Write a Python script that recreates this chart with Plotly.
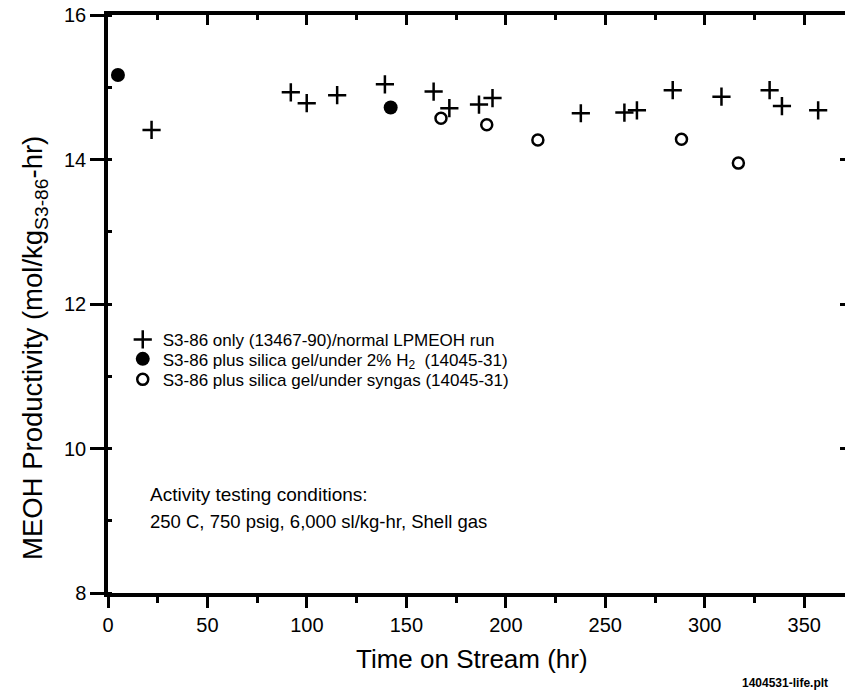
import plotly.graph_objects as go

# ---- data ----
normal_x = [21.9, 91.9, 99.9, 115.2, 139.2, 163.7, 171.6, 186.5, 193.3, 237.7,
            259.6, 265.9, 283.9, 308.4, 332.6, 338.8, 357.0]
normal_y = [14.41, 14.93, 14.78, 14.89, 15.04, 14.94, 14.71, 14.76, 14.85, 14.64,
            14.65, 14.68, 14.96, 14.87, 14.96, 14.74, 14.68]

h2_x = [5.0, 142.1]
h2_y = [15.17, 14.72]

syngas_x = [167.4, 190.4, 216.1, 288.3, 316.9]
syngas_y = [14.57, 14.48, 14.27, 14.28, 13.95]

x_ticks = [0, 50, 100, 150, 200, 250, 300, 350]
y_ticks = [8, 10, 12, 14, 16]

names = ["S3-86 only (13467-90)/normal LPMEOH run",
         "S3-86 plus silica gel/under 2% H<sub>2</sub>  (14045-31)",
         "S3-86 plus silica gel/under syngas (14045-31)"]

FONT = "Liberation Sans, Arial, Helvetica, sans-serif"

fig = go.Figure()
fig.add_trace(go.Scatter(x=normal_x, y=normal_y, mode="markers", name=names[0],
                         legend="legend",
                         marker=dict(symbol="cross-thin", size=13, color="black",
                                     line=dict(color="black", width=2.5))))
fig.add_trace(go.Scatter(x=h2_x, y=h2_y, mode="markers", name=names[1],
                         legend="legend2",
                         marker=dict(symbol="circle", size=14, color="black")))
fig.add_trace(go.Scatter(x=syngas_x, y=syngas_y, mode="markers", name=names[2],
                         legend="legend3",
                         marker=dict(symbol="circle-open", size=11, color="black",
                                     line=dict(color="black", width=2.5))))
# helper trace to realise the mirrored top/right axes
fig.add_trace(go.Scatter(x=[None], y=[None], xaxis="x2", yaxis="y2",
                         showlegend=False, hoverinfo="skip"))

xr = [0, 370.5]
yr = [8, 16]


def leg(ypx):
    return dict(x=0.02, y=(593.3 - ypx) / 578.3, xanchor="left", yanchor="middle",
                bgcolor="rgba(0,0,0,0)", borderwidth=0,
                font=dict(size=17, family=FONT), itemsizing="trace")


fig.update_layout(
    width=845, height=695,
    margin=dict(l=108, r=0, t=15, b=102),
    paper_bgcolor="white", plot_bgcolor="white",
    font=dict(family=FONT, color="black"),
    showlegend=True,
    legend=leg(340), legend2=leg(359.5), legend3=leg(380),
    xaxis=dict(range=xr, tickvals=x_ticks, ticks="outside", ticklen=11, tickwidth=3,
               tickcolor="black", showline=True, linewidth=3.5, linecolor="black",
               showgrid=False, zeroline=False, tickfont=dict(size=20),
               minor=dict(dtick=25, tick0=0, ticks="outside", ticklen=6, tickwidth=3,
                          tickcolor="black", showgrid=False)),
    yaxis=dict(range=yr, tickvals=y_ticks, ticks="outside", ticklen=14, tickwidth=3,
               tickcolor="black", showline=True, linewidth=3.5, linecolor="black",
               showgrid=False, zeroline=False, tickfont=dict(size=20),
               minor=dict(dtick=1, tick0=8, ticks="inside", ticklen=4, tickwidth=2.5,
                          tickcolor="black", showgrid=False)),
    xaxis2=dict(range=xr, overlaying="x", side="top", anchor="y2",
                tickvals=x_ticks, ticks="inside", ticklen=10, tickwidth=3,
                tickcolor="black", showticklabels=False, showline=True, linewidth=4,
                linecolor="black", showgrid=False, zeroline=False,
                minor=dict(dtick=25, tick0=0, ticks="inside", ticklen=5, tickwidth=3,
                           tickcolor="black", showgrid=False)),
    yaxis2=dict(range=yr, overlaying="y", side="right", anchor="x2",
                tickvals=y_ticks, ticks="inside", ticklen=5, tickwidth=3,
                tickcolor="black", showticklabels=False, showline=False,
                showgrid=False, zeroline=False),
)

annotations = [
    dict(text="Time on Stream (hr)", x=0.494, y=-0.115, xref="paper", yref="paper",
         xanchor="center", yanchor="middle", showarrow=False, font=dict(size=26)),
    dict(text="MEOH Productivity (mol/kg<sub>S3-86</sub>-hr)", x=-0.099, y=0.424,
         xref="paper", yref="paper", xanchor="center", yanchor="middle",
         textangle=-90, showarrow=False, font=dict(size=27.5)),
    dict(text="Activity testing conditions:", x=(148 - 108) / 737.3, y=(593.3 - 495) / 578.3,
         xref="paper", yref="paper", xanchor="left", yanchor="middle",
         showarrow=False, font=dict(size=19)),
    dict(text="250 C, 750 psig, 6,000 sl/kg-hr, Shell gas", x=(148 - 108) / 737.3,
         y=(593.3 - 522) / 578.3, xref="paper", yref="paper", xanchor="left",
         yanchor="middle", showarrow=False, font=dict(size=18.5)),
    dict(text="<b>1404531-life.plt</b>", x=(830 - 108) / 737.3, y=(593.3 - 683) / 578.3,
         xref="paper", yref="paper", xanchor="right", yanchor="middle",
         showarrow=False, font=dict(size=12)),
]
fig.update_layout(annotations=annotations)

fig.write_html("out.html")
